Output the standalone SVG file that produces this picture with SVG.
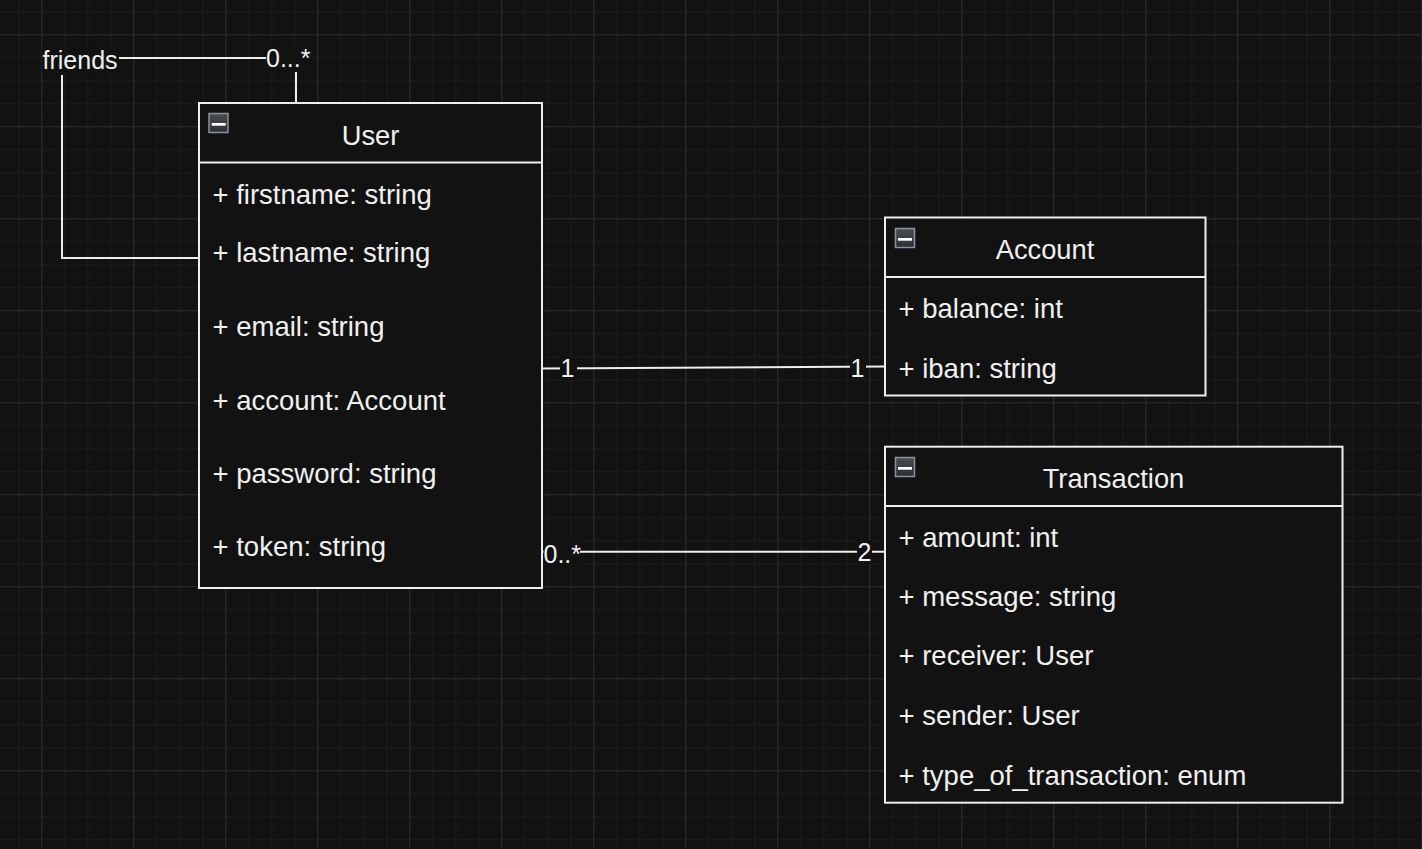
<svg xmlns="http://www.w3.org/2000/svg" width="1422" height="849" viewBox="0 0 1422 849">
<style>
.box{fill:#121212;stroke:#eeeeee;stroke-width:2}
.sep{stroke:#eeeeee;stroke-width:2}
.title{font-family:"Liberation Sans",Arial,Helvetica,sans-serif;font-size:27.3px;fill:#f0f0f0;text-anchor:middle}
.attr{font-family:"Liberation Sans",Arial,Helvetica,sans-serif;font-size:27.5px;fill:#f0f0f0}
.edge{fill:none;stroke:#eeeeee;stroke-width:2}
.lbl{font-family:"Liberation Sans",Arial,Helvetica,sans-serif;font-size:25px;fill:#f0f0f0}
.lblbg{fill:#121212}
.ic{fill:url(#icg);stroke:#8a929e;stroke-width:1.5}
.icbar{fill:#ffffff}
</style>
<defs>
<pattern id="grid" patternUnits="userSpaceOnUse" x="18.3" y="11.3" width="92" height="92">
<path d="M0.5 0V92M46.5 0V92M69.5 0V92M0 0.5H92M0 46.5H92M0 69.5H92" stroke="#1c1c1c" stroke-width="1"/>
<path d="M23.5 0V92M0 23.5H92" stroke="#2e2e2e" stroke-width="1"/>
</pattern>
<linearGradient id="icg" x1="0" y1="0" x2="0" y2="1">
<stop offset="0" stop-color="#4a4d52"/>
<stop offset="1" stop-color="#2c2e32"/>
</linearGradient>
</defs>
<rect width="1422" height="849" fill="#121212"/>
<rect width="1422" height="849" fill="url(#grid)"/>

<g id="connectors">
<g id="edge-friends">
<path class="edge" d="M199 258H62V58H296V102"/>
<rect class="lblbg" x="42" y="46" width="77" height="29"/>
<text class="lbl" x="42.5" y="69">friends</text>
<rect class="lblbg" x="266" y="45" width="46" height="27"/>
<text class="lbl" x="266" y="66.5">0...*</text>
</g>
<g id="edge-user-account">
<path class="edge" d="M542 368.5L885 366.5"/>
<rect class="lblbg" x="560" y="356" width="17" height="24"/>
<text class="lbl" x="560.5" y="377">1</text>
<rect class="lblbg" x="850" y="355" width="16" height="24"/>
<text class="lbl" x="850.5" y="377">1</text>
</g>
<g id="edge-user-transaction">
<path class="edge" d="M542 551.7H885"/>
<rect class="lblbg" x="543.5" y="540" width="36.5" height="27"/>
<text class="lbl" x="543.5" y="562.5">0..*</text>
<rect class="lblbg" x="857" y="540" width="15" height="24"/>
<text class="lbl" x="857.5" y="561">2</text>
</g>
</g>

<g id="node-user">
<rect class="box" x="199" y="103" width="343" height="485"/>
<line class="sep" x1="199" y1="162.5" x2="542" y2="162.5"/>
<rect class="ic" x="209" y="113.5" width="19" height="19"/>
<rect class="icbar" x="211.7" y="123" width="14" height="2.7"/>
<text class="title" x="370.5" y="144.5">User</text>
<text class="attr" x="212.5" y="203.5">+ firstname: string</text>
<text class="attr" x="212.5" y="262">+ lastname: string</text>
<text class="attr" x="212.5" y="336.3">+ email: string</text>
<text class="attr" x="212.5" y="409.5">+ account: Account</text>
<text class="attr" x="212.5" y="482.8">+ password: string</text>
<text class="attr" x="212.5" y="556">+ token: string</text>
</g>

<g id="node-account">
<rect class="box" x="885" y="217.5" width="320.5" height="178"/>
<line class="sep" x1="885" y1="277" x2="1205.5" y2="277"/>
<rect class="ic" x="895.5" y="228.5" width="19" height="19"/>
<rect class="icbar" x="898" y="238" width="14" height="2.7"/>
<text class="title" x="1045" y="258.5">Account</text>
<text class="attr" x="898.5" y="317.8">+ balance: int</text>
<text class="attr" x="898.5" y="378.3">+ iban: string</text>
</g>

<g id="node-transaction">
<rect class="box" x="885" y="446.7" width="457.5" height="356"/>
<line class="sep" x1="885" y1="506" x2="1342.5" y2="506"/>
<rect class="ic" x="895.5" y="457.5" width="19" height="19"/>
<rect class="icbar" x="898" y="467" width="14" height="2.7"/>
<text class="title" x="1113.5" y="488">Transaction</text>
<text class="attr" x="898.5" y="546.7">+ amount: int</text>
<text class="attr" x="898.5" y="605.7">+ message: string</text>
<text class="attr" x="898.5" y="665">+ receiver: User</text>
<text class="attr" x="898.5" y="725">+ sender: User</text>
<text class="attr" x="898.5" y="785">+ type_of_transaction: enum</text>
</g>
</svg>
